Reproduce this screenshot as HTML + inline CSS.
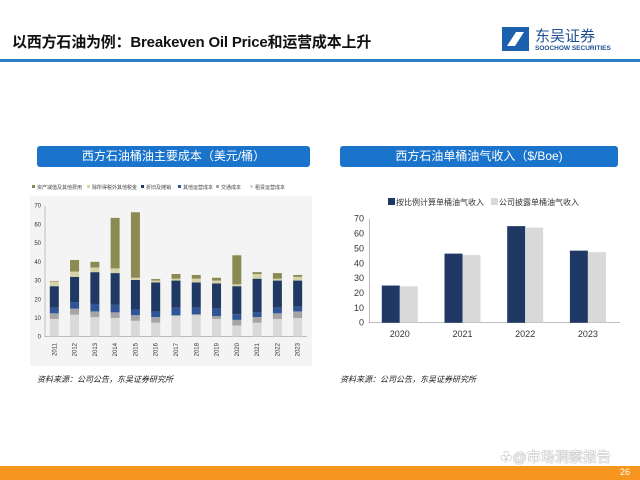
<!DOCTYPE html>
<html><head><meta charset="utf-8"><style>
body{margin:0;width:640px;height:480px;overflow:hidden;background:#fff;font-family:"Liberation Sans","Noto Sans CJK SC",sans-serif;position:relative}
.abs{position:absolute}
</style></head><body>
<div class="abs" style="left:12px;top:31px;font-size:15px;font-weight:bold;color:#111;letter-spacing:-0.2px">以西方石油为例：Breakeven Oil Price和运营成本上升</div>
<svg class="abs" style="left:502px;top:26px" width="130" height="26">
<rect x="0" y="1" width="27" height="24" fill="#1b5fae"/><path d="M5 20 L14 6 L22 6 L13 20 Z" fill="#fff"/><text x="33" y="15" font-size="15" fill="#1b4f8f" font-family="Noto Sans CJK SC,sans-serif">东吴证券</text><text x="33" y="24" font-size="6.5" font-weight="bold" fill="#1b4f8f">SOOCHOW SECURITIES</text></svg>
<div class="abs" style="left:0;top:59px;width:640px;height:3px;background:#2f7ec4"></div>
<div class="abs" style="left:37px;top:146px;width:273px;height:21px;background:#1a74cc;border-radius:3px;color:#fff;font-size:12px;line-height:21px;text-align:center">西方石油桶油主要成本（美元/桶）</div>
<div class="abs" style="left:340px;top:146px;width:278px;height:21px;background:#1a74cc;border-radius:3px;color:#fff;font-size:12px;line-height:21px;text-align:center">西方石油单桶油气收入（$/Boe)</div>
<svg class="abs" id="left" style="left:0;top:0" width="320" height="375"></svg>
<svg class="abs" id="right" style="left:320px;top:0" width="320" height="375"></svg>
<div class="abs" style="left:37px;top:374px;font-size:8px;font-style:italic;color:#222">资料来源：公司公告，东吴证券研究所</div>
<div class="abs" style="left:340px;top:374px;font-size:8px;font-style:italic;color:#222">资料来源：公司公告，东吴证券研究所</div>
<div class="abs" style="left:500px;top:447px;font-size:14px;color:#fff;text-shadow:0 0 1px #888,0 0 1px #888">☘@市场洞察报告</div>
<div class="abs" style="left:0;top:466px;width:640px;height:14px;background:#f7961e"></div>
<div class="abs" style="left:620px;top:467px;font-size:9px;color:#fff">26</div>
<script>
const years=['2011','2012','2013','2014','2015','2016','2017','2018','2019','2020','2021','2022','2023'];
const seriesNames=['租赁运营成本','交通成本','其他运营成本','折旧及摊销','除所得税外其他税金','资产减值及其他费用'];
const lease=[9.5,11.8,10.5,10,8.5,7.5,11,11.5,9.5,6,7.5,9.5,10];
const transport=[3,3.2,3,3,3,3,0.5,0.5,1.5,3,3,3,3.5];
const otherOp=[3,3.5,4,4,3,3,4,3.5,4,3,2.5,3,2.5];
const depr=[11.5,13.5,17,17,15.8,15.5,14.5,13.5,13.5,15,18,14.5,14];
const tax=[2.5,2.8,2.5,2.5,1.2,1,1,2,1.5,1,2.5,1,2];
const impair=[0.3,6.2,3,27,35,0.8,2.5,2,1.5,15.5,1,3,1];
const leftTicks=[0,10,20,30,40,50,60,70];
const rYears=['2020','2021','2022','2023'];
const calc=[25,46.5,65,48.5];
const disclosed=[24.5,45.5,64,47.5];
const rightTicks=[0,10,20,30,40,50,60,70];
const NS='http://www.w3.org/2000/svg';
function mk(p,t,a){const e=document.createElementNS(NS,t);for(const k in a)e.setAttribute(k,a[k]);p.appendChild(e);return e;}
const L=document.getElementById('left');
const bg=mk(L,'rect',{x:30,y:196,width:282,height:170,fill:'#f4f4f4'});

const ly=v=>336.7-v*131/70, lx=i=>54.3+i*20.28;
const colors=['#d9d9d9','#a5a5a5','#2f5597','#1f3864','#d6d3a8','#8b8a52'];
const data=[lease,transport,otherOp,depr,tax,impair];
leftTicks.forEach(t=>{const tx=mk(L,'text',{x:41,y:ly(t)+2,'font-size':6,'text-anchor':'end',fill:'#333'});tx.textContent=t;
});
mk(L,'line',{x1:45,y1:ly(0),x2:45,y2:ly(70),stroke:'#999','stroke-width':0.6});
mk(L,'line',{x1:45,y1:ly(0),x2:307,y2:ly(0),stroke:'#999','stroke-width':0.6});
years.forEach((y,i)=>{let c=0;data.forEach((s,k)=>{const r=mk(L,'rect',{x:lx(i)-4.5,y:ly(c+s[i]),width:9,height:s[i]*131/70,fill:colors[k]});
c+=s[i];});
const tx=mk(L,'text',{x:lx(i)+2,y:343,'font-size':6,fill:'#333','text-anchor':'end',transform:`rotate(-90 ${lx(i)+2} 343)`});tx.textContent=y;
});
const legOrder=[5,4,3,2,1,0];const legX=[32,87,141,178,216,250];
legOrder.forEach((k,j)=>{mk(L,'rect',{x:legX[j],y:185,width:3,height:3,fill:colors[k]});
const tx=mk(L,'text',{x:legX[j]+5,y:189,'font-size':5,fill:'#444'});tx.textContent=seriesNames[k];
});
const R=document.getElementById('right');
const ry=v=>322.7-v*104/70, rx=i=>49.3+i*62.7+30.5;
rightTicks.forEach(t=>{const tx=mk(R,'text',{x:44,y:ry(t)+3,'font-size':9,'text-anchor':'end',fill:'#333'});tx.textContent=t;
});
mk(R,'line',{x1:49.3,y1:ry(0),x2:49.3,y2:ry(70),stroke:'#999','stroke-width':0.7});
mk(R,'line',{x1:49.3,y1:ry(0),x2:300,y2:ry(0),stroke:'#999','stroke-width':0.7});
rYears.forEach((y,i)=>{const a=mk(R,'rect',{x:rx(i)-18,y:ry(calc[i]),width:18,height:calc[i]*104/70,fill:'#1f3864'});

const b=mk(R,'rect',{x:rx(i),y:ry(disclosed[i]),width:18,height:disclosed[i]*104/70,fill:'#d9d9d9'});

const tx=mk(R,'text',{x:rx(i),y:337,'font-size':9,'text-anchor':'middle',fill:'#333'});tx.textContent=y;
});
mk(R,'rect',{x:68,y:198,width:7,height:7,fill:'#1f3864'});
let t1=mk(R,'text',{x:76,y:205,'font-size':8,fill:'#333'});t1.textContent='按比例计算单桶油气收入';

mk(R,'rect',{x:171,y:198,width:7,height:7,fill:'#d9d9d9'});
let t2=mk(R,'text',{x:179,y:205,'font-size':8,fill:'#333'});t2.textContent='公司披露单桶油气收入';

</script>
</body></html>
